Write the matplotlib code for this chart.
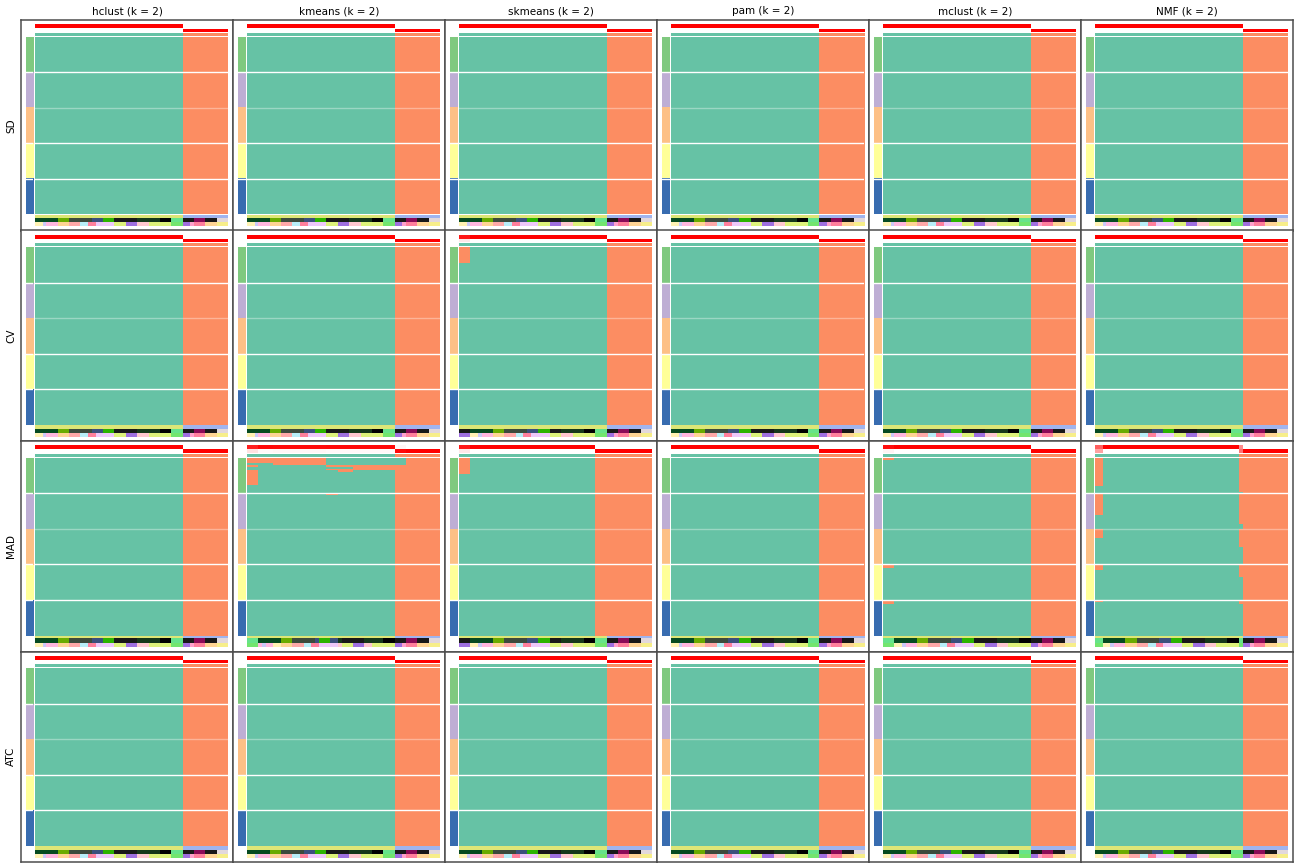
import numpy as np
import matplotlib
matplotlib.use("Agg")
import matplotlib.pyplot as plt
from matplotlib.colors import ListedColormap, LinearSegmentedColormap, to_rgb

# ---------------- data ----------------
top_value_methods = ["SD", "CV", "MAD", "ATC"]
partition_methods = ["hclust", "kmeans", "skmeans", "pam", "mclust", "NMF"]
k = 2
n_samples = 51
n_groups = 5
rows_per_group = 20
default_split = 39          # samples in class 1 (default ordering)

class_colors = ["#66C2A5", "#FC8D62"]
group_colors = ["#7FC97F", "#BEAED4", "#FDC086", "#FFFF99", "#386CB0"]

# sample annotations in default order (color, count)
known_runs = [("#DDE677", 39), ("#A0B4EE", 12)]
dark_runs = [("#064A20", 6), ("#6AAB00", 3), ("#3C4A3C", 6), ("#3B4F7D", 3),
             ("#2CB300", 3), ("#181818", 6), ("#15381A", 6), ("#000000", 3),
             ("#66E38A", 3), ("#181818", 3), ("#8B0A57", 3), ("#181818", 3),
             ("#E2D8DC", 3)]
pastel_runs = [("#FFF2B3", 2), ("#C9C9F7", 1), ("#FFB6DE", 3), ("#FFD494", 3),
               ("#FFA8A8", 3), ("#B8EEF8", 2), ("#FF7F9C", 2), ("#EEC8FA", 5),
               ("#DDF27A", 3), ("#9F6FDF", 3), ("#FFC7CF", 3), ("#DDF27A", 6),
               ("#72E56E", 3), ("#9F6FDF", 2), ("#FFA0CC", 1), ("#FF7F9C", 3),
               ("#FFD494", 3), ("#F7EE8A", 3)]

# sample orders that differ from the default
order_skmeans = [24, 25, 26] + list(range(0, 24)) + list(range(27, 51))
order_kmeans_mad = [36, 37, 38, 3, 2, 4, 5, 0, 1, 6, 7, 8, 9, 10, 11, 12, 13, 14,
                    15, 18, 19, 20, 16, 17, 27, 21, 22, 23, 24, 25, 26, 28, 29,
                    30, 31, 32, 33, 34, 35] + list(range(39, 51))
order_mclust_mad = [36, 37, 38] + list(range(0, 36)) + list(range(39, 51))
order_nmf_mad = [36, 37] + list(range(0, 36)) + [38] + list(range(39, 51))

# membership flips: (group, row_start, row_end, col_start, col_end)
flips_skmeans_cv = [(0, 0, 9, 0, 3)]
flips_skmeans_mad = [(0, 0, 9, 0, 3)]
flips_kmeans_mad = [(0, 0, 3, 0, 3), (0, 4, 5, 0, 3), (0, 7, 15, 0, 3),
                    (0, 0, 3, 3, 7), (0, 0, 4, 7, 21),
                    (0, 4, 5, 21, 24), (0, 6, 7, 21, 24),
                    (0, 4, 5, 24, 28), (0, 6, 8, 24, 28),
                    (0, 4, 7, 28, 39), (0, 0, 4, 39, 42), (1, 0, 1, 21, 24)]
flips_mclust_mad = [(0, 0, 1, 0, 3), (3, 0, 2, 0, 3), (4, 0, 2, 0, 3)]
flips_nmf_mad = [(0, 0, 16, 0, 2), (1, 0, 12, 0, 2), (2, 0, 5, 0, 2),
                 (3, 0, 3, 0, 2), (4, 0, 1, 0, 2),
                 (0, 0, 19, 38, 39), (1, 0, 17, 38, 39), (2, 0, 10, 38, 39),
                 (3, 0, 7, 38, 39), (4, 0, 2, 38, 39)]

panel_split = {("MAD", "skmeans"): 36}
panel_order = {("CV", "skmeans"): order_skmeans, ("MAD", "skmeans"): order_skmeans,
               ("MAD", "kmeans"): order_kmeans_mad, ("MAD", "mclust"): order_mclust_mad,
               ("MAD", "NMF"): order_nmf_mad}
panel_flips = {("CV", "skmeans"): flips_skmeans_cv, ("MAD", "skmeans"): flips_skmeans_mad,
               ("MAD", "kmeans"): flips_kmeans_mad, ("MAD", "mclust"): flips_mclust_mad,
               ("MAD", "NMF"): flips_nmf_mad}

# ---------------- figure ----------------
W, H = 1296, 864
fig = plt.figure(figsize=(W / 100, H / 100), dpi=100)
fig.patch.set_facecolor("white")


def px_axes(x0, y0, w, h):
    ax = fig.add_axes([x0 / W, 1 - (y0 + h) / H, w / W, h / H])
    ax.set_axis_off()
    return ax


def expand(runs):
    out = []
    for c, n in runs:
        out += [c] * n
    return out


known_cols = expand(known_runs)
dark_cols = expand(dark_runs)
pastel_cols = expand(pastel_runs)

cls_cmap = ListedColormap(class_colors)
prob_cmap = LinearSegmentedColormap.from_list("wr", ["#FFFFFF", "#FF0000"])
grp_cmap = ListedColormap(group_colors)

col_x0, col_pitch = 21, 212
row_y0, row_pitch = 20, 210.5
hm_dx, hm_w = 14, 193
hm_dy, hm_h = 16.5, 178
n_rows = n_groups * rows_per_group

for r, tvm in enumerate(top_value_methods):
    for c, pm in enumerate(partition_methods):
        X = col_x0 + c * col_pitch
        Y = row_y0 + r * row_pitch
        key = (tvm, pm)

        # panel frame
        fa = fig.add_axes([X / W, 1 - (Y + row_pitch) / H, col_pitch / W, row_pitch / H])
        fa.set_xticks([]); fa.set_yticks([])
        for s in fa.spines.values():
            s.set_color("#4D4D4D"); s.set_linewidth(1.1)

        split = panel_split.get(key, default_split)
        order = panel_order.get(key, list(range(n_samples)))
        M = np.zeros((n_rows, n_samples), dtype=int)
        M[:, split:] = 1
        for g, r0, r1, c0, c1 in panel_flips.get(key, []):
            a, b = g * rows_per_group + r0, g * rows_per_group + r1
            M[a:b, c0:c1] = 1 - M[a:b, c0:c1]
        p1 = (M == 0).mean(axis=0)
        cls = (p1 < 0.5).astype(int)

        hx = X + hm_dx
        hy = Y + hm_dy

        # probability rows (class 1, class 2)
        ax = px_axes(hx, hy - 12.2, hm_w, 4.2)
        ax.imshow(p1[None, :], cmap=prob_cmap, vmin=0, vmax=1, aspect="auto",
                  interpolation="nearest", extent=(0, n_samples, 1, 0))
        ax = px_axes(hx, hy - 8, hm_w, 3.2)
        ax.imshow((1 - p1)[None, :], cmap=prob_cmap, vmin=0, vmax=1, aspect="auto",
                  interpolation="nearest", extent=(0, n_samples, 1, 0))
        # class row
        ax = px_axes(hx, hy - 3.7, hm_w, 2.8)
        ax.imshow(cls[None, :], cmap=cls_cmap, vmin=0, vmax=1, aspect="auto",
                  interpolation="nearest", extent=(0, n_samples, 1, 0))
        # main membership heatmap
        ax = px_axes(hx, hy, hm_w, hm_h)
        ax.imshow(M, cmap=cls_cmap, vmin=0, vmax=1, aspect="auto",
                  interpolation="nearest", extent=(0, n_samples, n_rows, 0))
        for g in range(1, n_groups):
            ax.axhline(g * rows_per_group, color="white", lw=1.0,
                       alpha=0.35 if g == 2 else 1.0)
        ax.set_xlim(0, n_samples); ax.set_ylim(n_rows, 0)
        # left group bars
        ax = px_axes(X + 5, hy, 7.5, hm_h)
        ax.imshow(np.arange(n_groups)[:, None], cmap=grp_cmap, aspect="auto",
                  interpolation="nearest", extent=(0, 1, n_groups, 0))
        for g in (1, 3, 4):
            ax.axhline(g, color="white", lw=1.0)
        ax.set_xlim(0, 1); ax.set_ylim(n_groups, 0)
        # bottom sample annotations
        img = np.array([[to_rgb(known_cols[i]) for i in order],
                        [to_rgb(dark_cols[i]) for i in order],
                        [to_rgb(pastel_cols[i]) for i in order]])
        ax = px_axes(hx, hy + hm_h, hm_w, 12)
        ax.imshow(img, aspect="auto", interpolation="nearest",
                  extent=(0, n_samples, 3, 0))

# titles
for c, pm in enumerate(partition_methods):
    fig.text((col_x0 + (c + 0.5) * col_pitch) / W, 1 - 11.5 / H,
             f"{pm} (k = {k})", ha="center", va="center", fontsize=7.5)
for r, tvm in enumerate(top_value_methods):
    fig.text(11 / W, 1 - (row_y0 + (r + 0.5) * row_pitch) / H, tvm,
             ha="center", va="center", rotation=90, fontsize=7.5)

fig.savefig("out.png", dpi=100, facecolor="white")
